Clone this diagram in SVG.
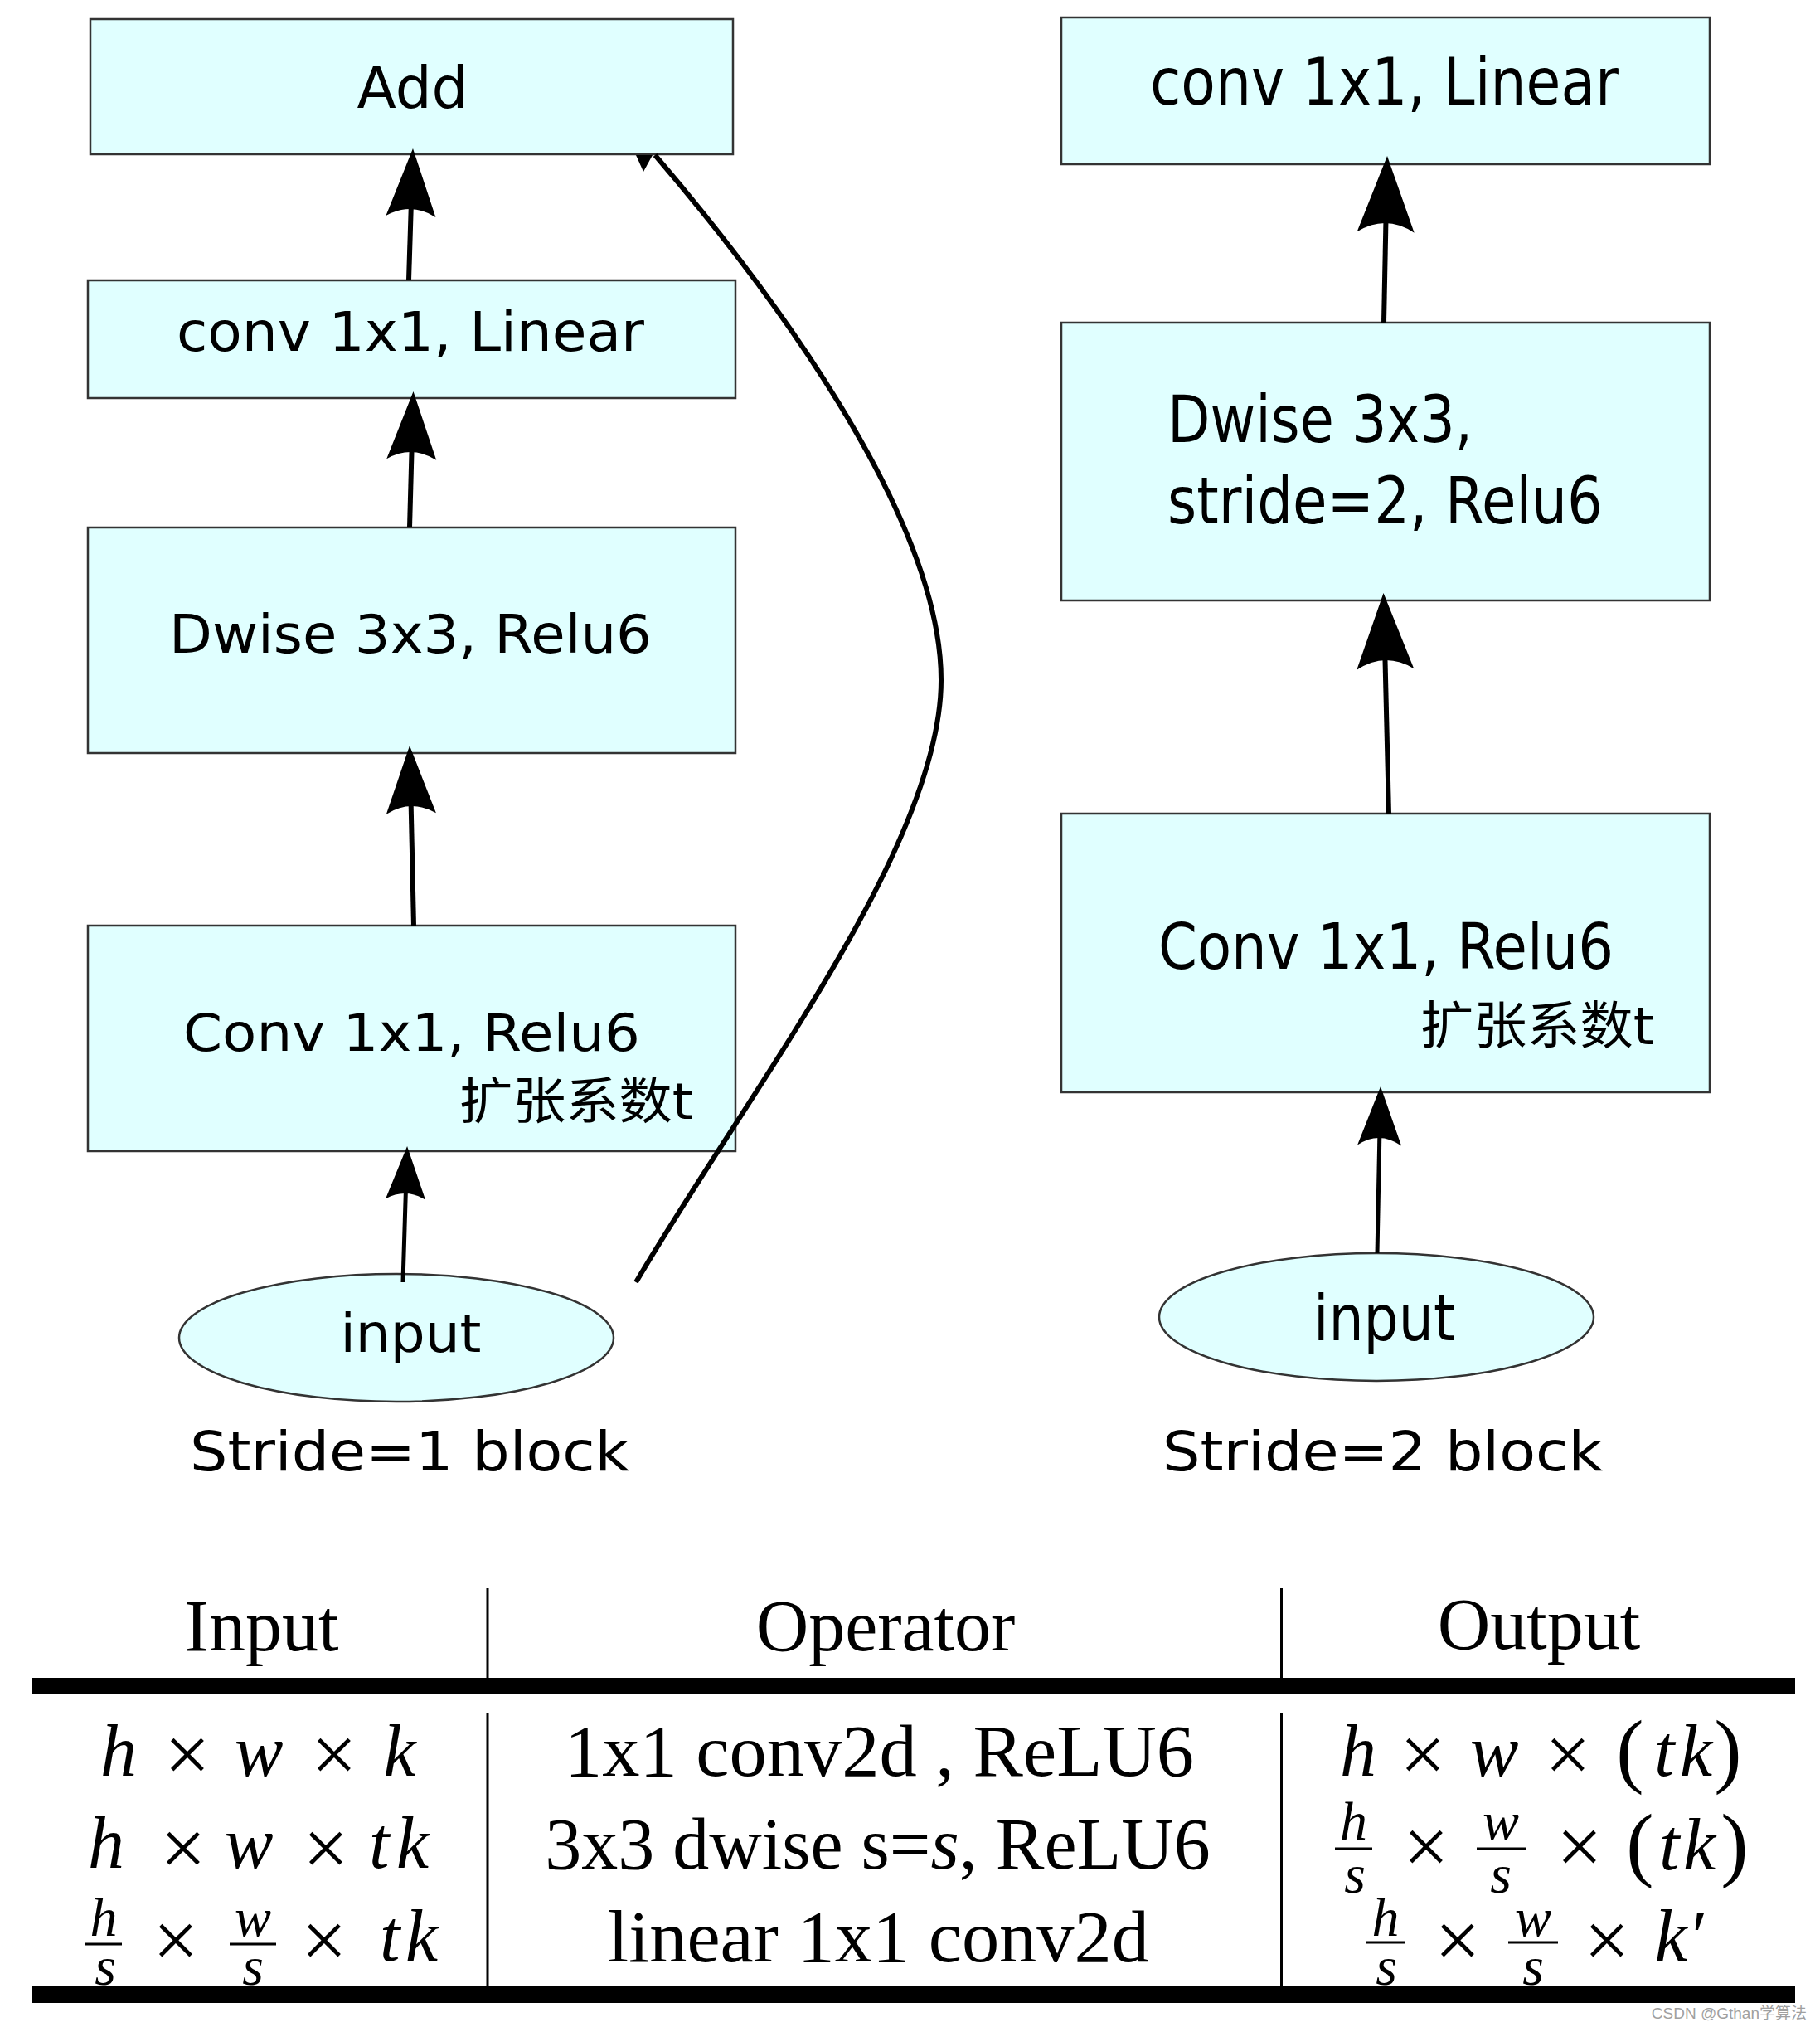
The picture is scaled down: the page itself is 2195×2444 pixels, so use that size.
<svg xmlns="http://www.w3.org/2000/svg" width="2195" height="2444" viewBox="0 0 2195 2444">
<style>
.box{fill:#e0ffff;stroke:#333;stroke-width:2.5}
.lbl{font-family:"DejaVu Sans","Noto Sans CJK SC",sans-serif;fill:#000}
.edge{stroke:#000;fill:none;stroke-width:6}
.thin{stroke-width:5}
.tbl{font-family:"Liberation Serif","Times New Roman",serif;fill:#000;font-size:88px}
.m{font-style:italic}
.c{text-anchor:middle}
.x{font-size:98px}
.f{font-size:66px}
.p{font-size:100px}
.rule{fill:#000}
.vl{stroke:#000;stroke-width:3}
.bar{fill:#000}
</style>
<defs>
<marker id="ahL" markerUnits="userSpaceOnUse" orient="auto" refX="9" refY="0" markerWidth="100" markerHeight="100" style="overflow:visible"><path d="M82,0 L0,-30 Q18,0 0,30 Z" fill="#000"/></marker>
<marker id="ahS" markerUnits="userSpaceOnUse" orient="auto" refX="7" refY="0" markerWidth="100" markerHeight="100" style="overflow:visible"><path d="M64,0 L0,-24 Q14,0 0,24 Z" fill="#000"/></marker>
<marker id="ahR" markerUnits="userSpaceOnUse" orient="auto" refX="11" refY="0" markerWidth="100" markerHeight="100" style="overflow:visible"><path d="M92,0 L0,-34.5 Q22,0 0,34.5 Z" fill="#000"/></marker>
<marker id="ahRS" markerUnits="userSpaceOnUse" orient="auto" refX="9" refY="0" markerWidth="100" markerHeight="100" style="overflow:visible"><path d="M71,0 L0,-26.5 Q18,0 0,26.5 Z" fill="#000"/></marker>
</defs>
<rect width="2195" height="2444" fill="#fff"/>

<!-- Left: Stride=1 block -->
<g id="add">
<rect class="box" x="109" y="23" width="775" height="163"/>
<text class="lbl" x="430.5" y="130" font-size="70" textLength="134" lengthAdjust="spacingAndGlyphs">Add</text>
</g>
<g id="s1-conv-linear">
<rect class="box" x="106" y="338" width="781" height="142"/>
<text class="lbl" x="213" y="423" font-size="66" textLength="564" lengthAdjust="spacingAndGlyphs">conv 1x1, Linear</text>
</g>
<g id="s1-dwise">
<rect class="box" x="106" y="636" width="781" height="272"/>
<text class="lbl" x="204" y="787" font-size="64" textLength="582" lengthAdjust="spacingAndGlyphs">Dwise 3x3, Relu6</text>
</g>
<g id="s1-conv-relu">
<rect class="box" x="106" y="1116" width="781" height="272"/>
<text class="lbl" x="221" y="1267" font-size="62" textLength="551" lengthAdjust="spacingAndGlyphs">Conv 1x1, Relu6</text>
<text class="lbl" x="554" y="1349" font-size="60" textLength="282" lengthAdjust="spacingAndGlyphs">扩张系数t</text>
</g>
<g id="s1-input">
<ellipse class="box" cx="478" cy="1613" rx="262" ry="77"/>
<text class="lbl" x="410.5" y="1629.5" font-size="64" textLength="170" lengthAdjust="spacingAndGlyphs">input</text>
</g>
<g id="s1-caption">
<text class="lbl" x="229" y="1773" font-size="66" textLength="530" lengthAdjust="spacingAndGlyphs">Stride=1 block</text>
</g>

<!-- Right: Stride=2 block -->
<g id="s2-conv-linear">
<rect class="box" x="1280" y="21" width="782" height="177"/>
<text class="lbl" x="1387" y="126" font-size="78" textLength="565" lengthAdjust="spacingAndGlyphs">conv 1x1, Linear</text>
</g>
<g id="s2-dwise">
<rect class="box" x="1280" y="389" width="782" height="335"/>
<text class="lbl" x="1408" y="533" font-size="78" textLength="368" lengthAdjust="spacingAndGlyphs">Dwise 3x3,</text>
<text class="lbl" x="1408" y="631" font-size="78" textLength="525" lengthAdjust="spacingAndGlyphs">stride=2, Relu6</text>
</g>
<g id="s2-conv-relu">
<rect class="box" x="1280" y="981" width="782" height="336"/>
<text class="lbl" x="1397" y="1168" font-size="76" textLength="549" lengthAdjust="spacingAndGlyphs">Conv 1x1, Relu6</text>
<text class="lbl" x="1713" y="1259" font-size="62" textLength="282" lengthAdjust="spacingAndGlyphs">扩张系数t</text>
</g>
<g id="s2-input">
<ellipse class="box" cx="1660" cy="1588" rx="262" ry="77"/>
<text class="lbl" x="1584" y="1615.5" font-size="76" textLength="171" lengthAdjust="spacingAndGlyphs">input</text>
</g>
<g id="s2-caption">
<text class="lbl" x="1402" y="1773" font-size="66" textLength="531" lengthAdjust="spacingAndGlyphs">Stride=2 block</text>
</g>

<!-- Connectors -->
<g id="connectors">
<line class="edge" x1="493" y1="338" x2="495.7" y2="252" marker-end="url(#ahL)"/>
<line class="edge" x1="494" y1="636" x2="496.5" y2="545" marker-end="url(#ahL)"/>
<line class="edge" x1="499" y1="1116" x2="495.7" y2="972" marker-end="url(#ahL)"/>
<line class="edge thin" x1="486" y1="1546" x2="489.3" y2="1439" marker-end="url(#ahS)"/>
<path class="edge" d="M767,1546 C900,1320 1135,1020 1135,820 C1135,620 920,339 790,187"/>
<polygon points="767,187 787,187 776,207" fill="#000"/>
<line class="edge" x1="1669" y1="389" x2="1671.4" y2="269" marker-end="url(#ahR)"/>
<line class="edge" x1="1675" y1="981" x2="1670.5" y2="796" marker-end="url(#ahR)"/>
<line class="edge thin" x1="1661" y1="1511" x2="1663.8" y2="1372" marker-end="url(#ahRS)"/>
</g>

<!-- Table -->
<g id="table">
<rect class="rule" x="39" y="2023" width="2126" height="20"/>
<rect class="rule" x="39" y="2395" width="2126" height="20"/>
<line class="vl" x1="588" y1="1915" x2="588" y2="2023"/>
<line class="vl" x1="1545.5" y1="1915" x2="1545.5" y2="2023"/>
<line class="vl" x1="588" y1="2066" x2="588" y2="2395"/>
<line class="vl" x1="1545.5" y1="2066" x2="1545.5" y2="2395"/>

<text class="tbl c" x="315.5" y="1990" font-size="90">Input</text>
<text class="tbl c" x="1068" y="1990" font-size="90">Operator</text>
<text class="tbl c" x="1856" y="1988" font-size="90">Output</text>

<!-- Input column -->
<text class="tbl m c" x="143" y="2141">h</text>
<text class="tbl x c" x="226" y="2148">×</text>
<text class="tbl m c" x="312" y="2141">w</text>
<text class="tbl x c" x="403" y="2148">×</text>
<text class="tbl m c" x="482" y="2141">k</text>

<text class="tbl m c" x="128" y="2252">h</text>
<text class="tbl x c" x="221" y="2261">×</text>
<text class="tbl m c" x="300" y="2252">w</text>
<text class="tbl x c" x="393" y="2261">×</text>
<text class="tbl m c" x="481" y="2252" textLength="72" lengthAdjust="spacing">tk</text>

<text class="tbl m f c" x="125" y="2334">h</text>
<rect class="bar" x="102" y="2342.5" width="45" height="3"/>
<text class="tbl m f c" x="127" y="2393">s</text>
<text class="tbl x c" x="212" y="2372">×</text>
<text class="tbl m f c" x="305" y="2334">w</text>
<rect class="bar" x="277" y="2342.5" width="56" height="3"/>
<text class="tbl m f c" x="305" y="2393">s</text>
<text class="tbl x c" x="391" y="2372">×</text>
<text class="tbl m c" x="493" y="2364" textLength="70" lengthAdjust="spacing">tk</text>

<!-- Operator column -->
<text class="tbl c" x="1060.5" y="2141" textLength="759" lengthAdjust="spacingAndGlyphs">1x1 conv2d , ReLU6</text>
<text class="tbl c" x="1058.5" y="2253">3x3 dwise s=<tspan class="m">s</tspan>, ReLU6</text>
<text class="tbl c" x="1059.5" y="2365" textLength="653" lengthAdjust="spacingAndGlyphs">linear 1x1 conv2d</text>

<!-- Output column -->
<text class="tbl m c" x="1638" y="2141">h</text>
<text class="tbl x c" x="1716" y="2148">×</text>
<text class="tbl m c" x="1802" y="2141">w</text>
<text class="tbl x c" x="1891" y="2148">×</text>
<text class="tbl p c" x="1966" y="2143">(</text>
<text class="tbl m c" x="2030" y="2141" textLength="70" lengthAdjust="spacing">tk</text>
<text class="tbl p c" x="2084" y="2143">)</text>

<text class="tbl m f c" x="1632.5" y="2218">h</text>
<rect class="bar" x="1610" y="2227.5" width="45" height="3"/>
<text class="tbl m f c" x="1634" y="2282">s</text>
<text class="tbl x c" x="1720" y="2259">×</text>
<text class="tbl m f c" x="1810" y="2218">w</text>
<rect class="bar" x="1781" y="2227.5" width="59" height="3"/>
<text class="tbl m f c" x="1810" y="2282">s</text>
<text class="tbl x c" x="1905" y="2259">×</text>
<text class="tbl p c" x="1978" y="2256">(</text>
<text class="tbl m c" x="2035" y="2254" textLength="68" lengthAdjust="spacing">tk</text>
<text class="tbl p c" x="2092" y="2256">)</text>

<text class="tbl m f c" x="1671" y="2334">h</text>
<rect class="bar" x="1648" y="2340.5" width="46" height="3"/>
<text class="tbl m f c" x="1672" y="2393">s</text>
<text class="tbl x c" x="1758" y="2372">×</text>
<text class="tbl m f c" x="1849" y="2334">w</text>
<rect class="bar" x="1819" y="2340.5" width="60" height="3"/>
<text class="tbl m f c" x="1849" y="2393">s</text>
<text class="tbl x c" x="1938" y="2372">×</text>
<text class="tbl m c" x="2025" y="2364">k′</text>
</g>

<g id="watermark">
<text x="2179" y="2434" font-family="'Liberation Sans','Noto Sans CJK SC',sans-serif" font-size="19" fill="#a0a0a0" text-anchor="end">CSDN @Gthan学算法</text>
</g>
</svg>
